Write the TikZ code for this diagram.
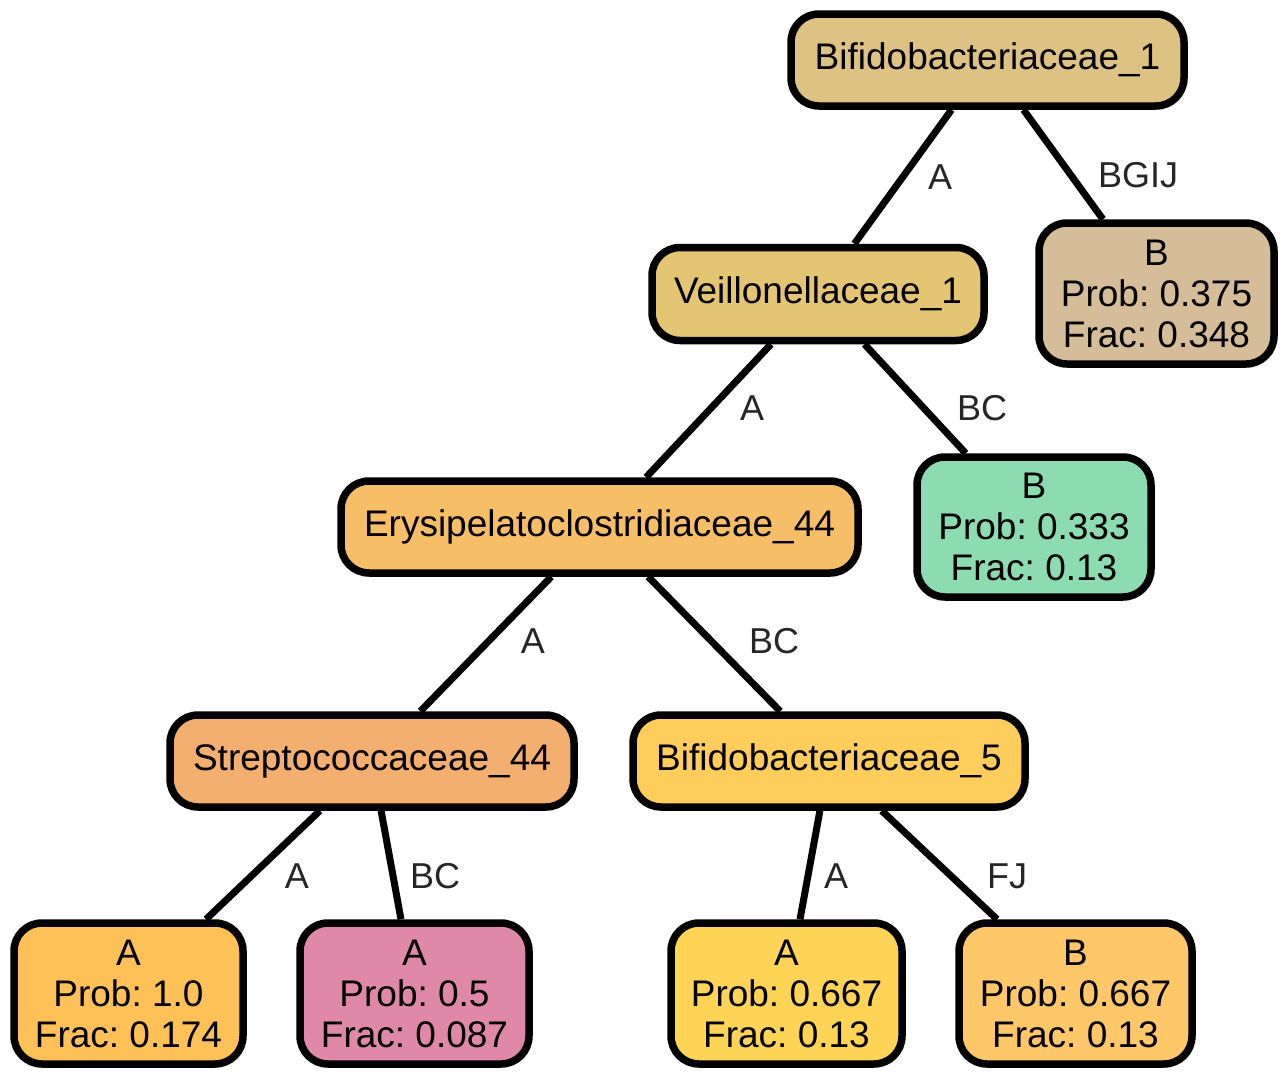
\documentclass[tikz,border=0pt]{standalone}
\usepackage{fontspec}
\setmainfont{Liberation Sans}
\frenchspacing
\begin{document}
\begin{tikzpicture}[x=1pt,y=-1pt,
  box/.style={draw=black, line width=7.5pt, rounded corners=28pt, inner sep=0pt,
    align=center, font=\fontsize{37}{41}\selectfont},
  link/.style={draw=black, line width=7pt},
  elabel/.style={text=black!85, font=\fontsize{36}{41}\selectfont, inner sep=0pt}]
\definecolor{cA}{HTML}{DEC284}
\definecolor{cB}{HTML}{E3C574}
\definecolor{cC}{HTML}{D4BD98}
\definecolor{cD}{HTML}{F7BE68}
\definecolor{cE}{HTML}{8DDBB0}
\definecolor{cF}{HTML}{F3AF6F}
\definecolor{cG}{HTML}{FFCD5C}
\definecolor{cH}{HTML}{FEC157}
\definecolor{cI}{HTML}{E088A8}
\definecolor{cJ}{HTML}{FED456}
\definecolor{cK}{HTML}{FEC76A}
\fill[white] (0,0) rectangle (1288,1079);
\useasboundingbox (0,0) rectangle (1288,1079);

% tree nodes
\node[box, fill=cA, minimum width=393pt, minimum height=92pt] (n1) at (987.5,60) {Bifidobacteriaceae\_1};
\node[box, fill=cB, minimum width=332pt, minimum height=93pt] (n2) at (818,294) {Veillonellaceae\_1};
\node[box, fill=cC, minimum width=235pt, minimum height=141pt] (n3) at (1156.5,293.5) {B\\Prob: 0.375\\Frac: 0.348};
\node[box, fill=cD, minimum width=517pt, minimum height=92pt] (n4) at (599.5,527) {Erysipelatoclostridiaceae\_44};
\node[box, fill=cE, minimum width=234pt, minimum height=140pt] (n5) at (1034,527) {B\\Prob: 0.333\\Frac: 0.13};
\node[box, fill=cF, minimum width=404pt, minimum height=92pt] (n6) at (372,761) {Streptococcaceae\_44};
\node[box, fill=cG, minimum width=392pt, minimum height=92pt] (n7) at (829,761) {Bifidobacteriaceae\_5};
\node[box, fill=cH, minimum width=229pt, minimum height=141pt] (n8) at (128.5,993.5) {A\\Prob: 1.0\\Frac: 0.174};
\node[box, fill=cI, minimum width=229pt, minimum height=141pt] (n9) at (414.5,993.5) {A\\Prob: 0.5\\Frac: 0.087};
\node[box, fill=cJ, minimum width=231pt, minimum height=141pt] (n10) at (786.5,993.5) {A\\Prob: 0.667\\Frac: 0.13};
\node[box, fill=cK, minimum width=233pt, minimum height=141pt] (n11) at (1075.5,993.5) {B\\Prob: 0.667\\Frac: 0.13};

% connectors
\draw[link] (n1) -- (n2);
\draw[link] (n1) -- (n3);
\draw[link] (n2) -- (n4);
\draw[link] (n2) -- (n5);
\draw[link] (n4) -- (n6);
\draw[link] (n4) -- (n7);
\draw[link] (n6) -- (n8);
\draw[link] (n6) -- (n9);
\draw[link] (n7) -- (n10);
\draw[link] (n7) -- (n11);

% connector labels
\node[elabel] (l12) at (940,177) {A};
\node[elabel] (l13) at (1138,175) {BGIJ};
\node[elabel] (l24) at (752,408) {A};
\node[elabel] (l25) at (982,408) {BC};
\node[elabel] (l46) at (533,641) {A};
\node[elabel] (l47) at (774,641) {BC};
\node[elabel] (l68) at (297,876) {A};
\node[elabel] (l69) at (435,876) {BC};
\node[elabel] (l710) at (836,876) {A};
\node[elabel] (l711) at (1007,876) {FJ};
\end{tikzpicture}
\end{document}
